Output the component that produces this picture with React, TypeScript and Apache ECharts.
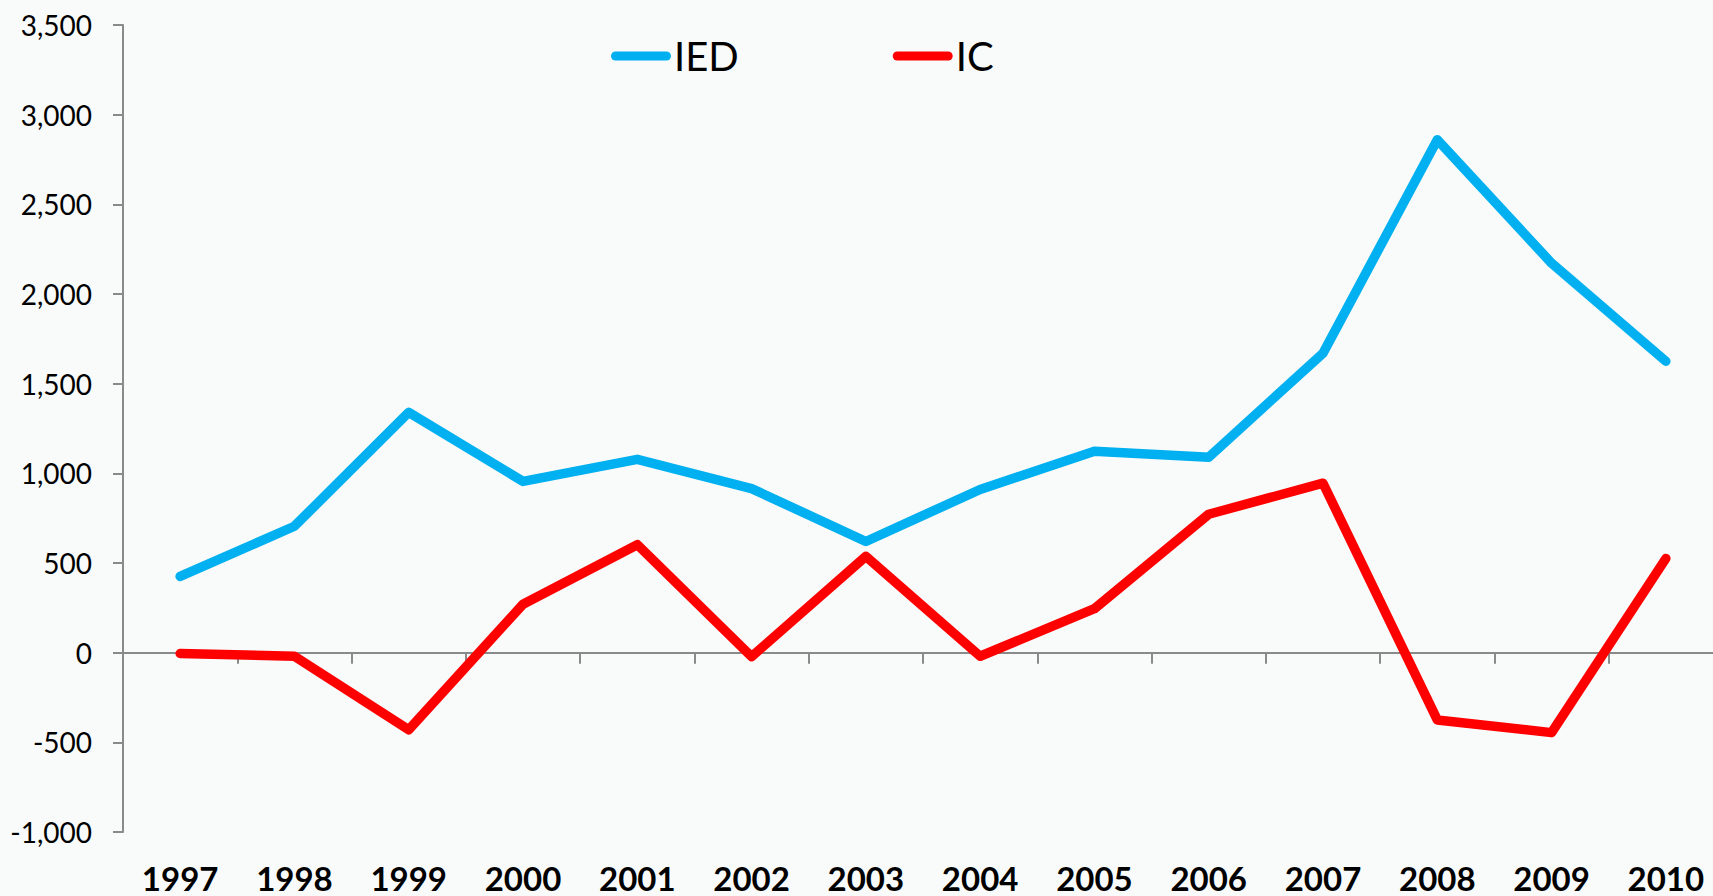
import React, { useEffect, useRef } from "react";
import * as echarts from "echarts";

const years = ["1997", "1998", "1999", "2000", "2001", "2002", "2003", "2004", "2005", "2006", "2007", "2008", "2009", "2010"];
const iedValues = [425, 705, 1340, 955, 1078, 915, 620, 910, 1123, 1090, 1670, 2860, 2172, 1625];
const icValues = [-5, -20, -430, 270, 602, -22, 537, -20, 245, 772, 945, -375, -446, 525];
const seriesNames = ["IED", "IC"];
const seriesColors = ["#00B0F0", "#FF0000"];

const FONT = "Lato, 'Open Sans', sans-serif";
const AXIS_GREY = "#8a8a8a";

export default function App() {
  const ref = useRef<HTMLDivElement>(null);
  useEffect(() => {
    if (!ref.current) return;
    const chart = echarts.init(ref.current, undefined, { renderer: "svg" });
    chart.setOption({
      animation: false,
      backgroundColor: "#f9fbfb",
      textStyle: { fontFamily: FONT },
      legend: {
        data: seriesNames,
        left: 606,
        top: 31,
        itemWidth: 60,
        itemHeight: 9,
        itemGap: 154,
        icon: "path://M4.5,0 H55.5 A4.5,4.5 0 0 1 55.5,9 H4.5 A4.5,4.5 0 0 1 4.5,0 Z",
        itemStyle: { borderWidth: 0 },
        textStyle: { fontSize: 40, color: "#000", fontFamily: FONT, padding: [0, 0, 0, -2] },
      },
      grid: {
        left: 123,
        top: 25,
        width: 1600,
        height: 807,
        containLabel: false,
        outerBoundsMode: "none",
      },
      xAxis: [
        {
          type: "category",
          data: years,
          position: "bottom",
          boundaryGap: true,
          axisLine: { show: false, onZero: false },
          axisTick: { show: false },
          axisLabel: {
            interval: 0,
            fontSize: 33,
            fontWeight: "bold",
            color: "#000",
            fontFamily: FONT,
            margin: 29,
          },
        },
        {
          type: "category",
          data: years,
          position: "bottom",
          boundaryGap: true,
          axisLine: { show: true, onZero: true, lineStyle: { color: AXIS_GREY, width: 2 } },
          axisTick: { show: true, interval: 0, length: 11, lineStyle: { color: AXIS_GREY, width: 2 } },
          axisLabel: { show: false, interval: 0 },
        },
      ],
      yAxis: {
        type: "value",
        min: -1000,
        max: 3500,
        interval: 500,
        axisLine: { show: true, lineStyle: { color: AXIS_GREY, width: 2 } },
        axisTick: { show: true, length: 10, lineStyle: { color: AXIS_GREY, width: 2 } },
        splitLine: { show: false },
        axisLabel: {
          fontSize: 28,
          color: "#000",
          fontFamily: FONT,
          margin: 31,
          formatter: (v: number) => v.toLocaleString("en-US"),
        },
      },
      series: [
        {
          name: seriesNames[0],
          type: "line",
          data: iedValues,
          xAxisIndex: 0,
          showSymbol: false,
          symbol: "none",
          color: seriesColors[0],
          lineStyle: { width: 9.5, color: seriesColors[0], cap: "round", join: "round" },
        },
        {
          name: seriesNames[1],
          type: "line",
          data: icValues,
          xAxisIndex: 0,
          showSymbol: false,
          symbol: "none",
          color: seriesColors[1],
          lineStyle: { width: 9.5, color: seriesColors[1], cap: "round", join: "round" },
        },
      ],
    });
    return () => chart.dispose();
  }, []);
  return (
    <div
      ref={ref}
      style={{ position: "fixed", left: 0, top: 0, width: 1713, height: 896 }}
    />
  );
}
